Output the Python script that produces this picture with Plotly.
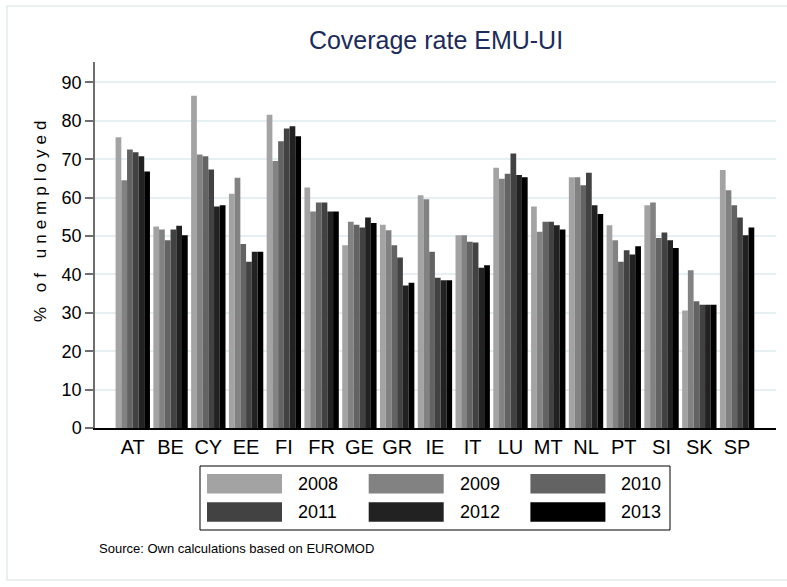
import plotly.graph_objects as go

# Coverage rate of unemployment insurance, % of unemployed
COUNTRIES = ["AT", "BE", "CY", "EE", "FI", "FR", "GE", "GR", "IE", "IT",
             "LU", "MT", "NL", "PT", "SI", "SK", "SP"]
YEARS = ["2008", "2009", "2010", "2011", "2012", "2013"]

Y2008 = [75.7, 52.5, 86.5, 61.0, 81.6, 62.6, 47.6, 52.9, 60.6, 50.2,
         67.8, 57.7, 65.3, 52.8, 58.0, 30.6, 67.2]
Y2009 = [64.5, 51.7, 71.2, 65.2, 69.5, 56.4, 53.7, 51.5, 59.6, 50.2,
         64.9, 51.1, 65.3, 48.9, 58.7, 41.1, 61.9]
Y2010 = [72.5, 48.9, 70.8, 47.9, 74.7, 58.7, 52.9, 47.6, 45.9, 48.5,
         66.2, 53.7, 63.2, 43.3, 49.5, 33.0, 58.0]
Y2011 = [71.8, 51.7, 67.3, 43.3, 78.0, 58.7, 52.2, 44.4, 39.1, 48.3,
         71.5, 53.7, 66.5, 46.3, 50.9, 32.1, 54.8]
Y2012 = [70.8, 52.7, 57.7, 45.9, 78.6, 56.4, 54.8, 37.1, 38.5, 41.7,
         65.9, 52.8, 58.0, 45.2, 48.9, 32.1, 50.2]
Y2013 = [66.8, 50.2, 58.0, 45.9, 76.0, 56.4, 53.4, 37.8, 38.5, 42.4,
         65.3, 51.7, 55.7, 47.3, 46.9, 32.1, 52.2]

SERIES = [Y2008, Y2009, Y2010, Y2011, Y2012, Y2013]
COLORS = ["#a3a3a3", "#828282", "#636363", "#424242", "#222222", "#000000"]

# plot area in pixels (page is 787 x 587)
W, H = 787, 587
PL, PR, PT, PB = 95, 776, 62, 428


def px_x(px):
    return (px - PL) / (PR - PL)


def px_y(py):
    return (PB - py) / (PB - PT)


fig = go.Figure()
for year, values, color in zip(YEARS, SERIES, COLORS):
    fig.add_trace(go.Bar(
        x=COUNTRIES, y=values, name=year,
        marker=dict(color=color, line=dict(width=0)),
        showlegend=False,
    ))

# Stata-style legend box: wide swatches, 3 columns x 2 rows
shapes = [dict(type="rect", xref="paper", yref="paper",
               x0=px_x(200), x1=px_x(670), y0=px_y(530), y1=px_y(466),
               line=dict(color="black", width=1), fillcolor="white")]
annotations = []
for i, (year, color) in enumerate(zip(YEARS, COLORS)):
    col, row = i % 3, i // 3
    sx = 207 + col * 161.7
    sy = 474 + row * 28.3
    shapes.append(dict(type="rect", xref="paper", yref="paper",
                       x0=px_x(sx), x1=px_x(sx + 75),
                       y0=px_y(sy + 19.5), y1=px_y(sy),
                       line=dict(width=0), fillcolor=color))
    annotations.append(dict(text=year, xref="paper", yref="paper",
                            x=px_x(sx + 89), y=px_y(sy + 10),
                            xanchor="left", yanchor="middle", showarrow=False,
                            font=dict(size=18, color="black")))

# faint outer frame of the graph region
shapes.append(dict(type="rect", xref="paper", yref="paper",
                   x0=px_x(7), x1=px_x(800), y0=px_y(580), y1=px_y(6),
                   line=dict(color="#e3eaec", width=1.5), layer="below"))

annotations.append(dict(text="Source: Own calculations based on EUROMOD",
                        xref="paper", yref="paper", x=px_x(97), y=px_y(548),
                        xanchor="left", yanchor="middle", showarrow=False,
                        font=dict(size=13, color="black")))
annotations.append(dict(text='<span style="letter-spacing:5px">% of unemployed</span>',
                        xref="paper", yref="paper", x=px_x(40), y=px_y(219),
                        xanchor="center", yanchor="middle", textangle=-90,
                        showarrow=False, font=dict(size=17, color="black")))

fig.update_layout(
    width=W, height=H,
    margin=dict(l=PL, r=W - PR, t=PT, b=H - PB),
    paper_bgcolor="white", plot_bgcolor="white",
    font=dict(family="Liberation Sans, Arial, sans-serif", color="black"),
    title=dict(text="Coverage rate EMU-UI", x=436 / W, xanchor="center",
               y=1 - 40 / H, yanchor="middle",
               font=dict(size=25, color="#1c2b5a")),
    barmode="group", bargap=0.09, bargroupgap=0,
    shapes=shapes, annotations=annotations,
)
fig.update_xaxes(
    type="category", range=[-1.0, 17.03],
    showline=True, linecolor="black", linewidth=1.5,
    ticks="", tickfont=dict(size=20), showgrid=False,
)
fig.update_yaxes(
    range=[0, (PB - PT) / 38.4 * 10], tickvals=list(range(0, 100, 10)),
    showline=True, linecolor="#6e6e6e", linewidth=1.5,
    ticks="outside", ticklen=8, tickcolor="#6e6e6e", tickwidth=1.5,
    tickfont=dict(size=18), showgrid=True, gridcolor="#e6f0f2", gridwidth=1.5,
    zeroline=False,
)

fig.write_html("out.html", config={"displayModeBar": False},
               post_script="document.body.style.margin='0';")
